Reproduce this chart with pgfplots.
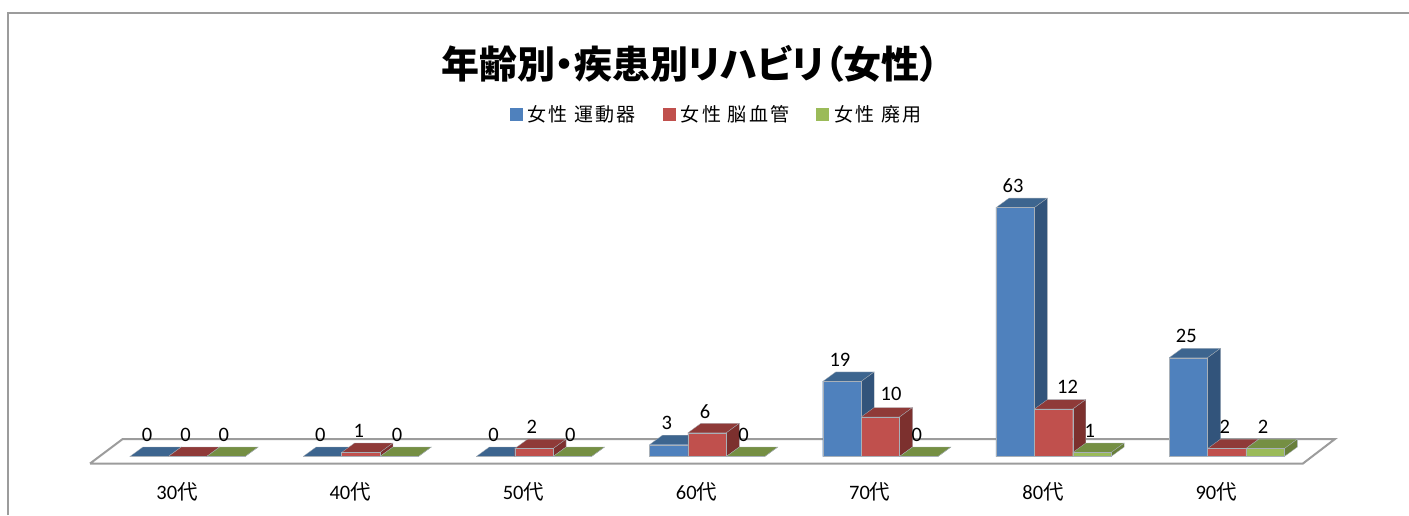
\documentclass[border=0pt]{standalone}
\usepackage{fontspec}
\setmainfont{Carlito}
\newfontfamily\cjk{Noto Sans CJK JP}
\newfontfamily\titlecjk[RawFeature=+palt]{Noto Sans CJK JP}
\newfontfamily\legcjk[LetterSpace=12]{Noto Sans CJK JP}
\usepackage{pgfplots}
\usepackage{pgfplotstable}
\pgfplotsset{compat=1.18}
\definecolor{bluefront}{HTML}{4F81BD}
\definecolor{bluetop}{HTML}{3D658F}
\definecolor{blueside}{HTML}{32547B}
\definecolor{redfront}{HTML}{C0504D}
\definecolor{redtop}{HTML}{8F3A38}
\definecolor{redside}{HTML}{7C302E}
\definecolor{greenfront}{HTML}{9BBB59}
\definecolor{greentop}{HTML}{758F43}
\definecolor{greenside}{HTML}{687F3A}
\definecolor{framegray}{HTML}{9C9C9C}
\definecolor{edgegray}{HTML}{A8B0B8}

\pgfplotstableread{
x motor brain disuse
0 0 0 0
1 0 1 0
2 0 2 0
3 3 6 0
4 19 10 0
5 63 12 1
6 25 2 2
}\agedata

% top and side faces of one bar: group, shift, value, top colour, side colour
\newcommand\depthfaces[5]{%
  \pgfmathsetmacro\xa{#1+(#2)-0.1109}%
  \pgfmathsetmacro\xb{#1+(#2)+0.1109}%
  \pgfmathsetmacro\xc{\xb+0.0751}%
  \pgfmathsetmacro\xd{\xa+0.0751}%
  \pgfmathsetmacro\yt{#3+2.405}%
  \edef\tmpfaces{%
    \noexpand\addplot[forget plot,fill=#4,draw=edgegray,line width=.3pt,mark=none]
      coordinates {(\xa,#3)(\xb,#3)(\xc,\yt)(\xd,\yt)(\xa,#3)};
    \noexpand\addplot[forget plot,fill=#5,draw=edgegray,line width=.3pt,mark=none]
      coordinates {(\xb,0)(\xc,2.405)(\xc,\yt)(\xb,#3)(\xb,0)};
  }%
  \tmpfaces
}

\begin{document}
\begin{tikzpicture}
\path[use as bounding box] (0pt,0pt) rectangle (1409pt,515pt);
\draw[framegray,line width=2pt] (8pt,0pt) -- (8pt,502.3pt) -- (1409pt,502.3pt);
\begin{axis}[
  at={(90pt,51.5pt)}, anchor=south west,
  scale only axis, width=1245pt, height=323pt,
  xmin=-0.563, xmax=6.625, ymin=-1.772, ymax=80,
  clip=false,
  axis line style={draw=none},
  tick style={draw=none},
  ytick=\empty,
  xtick={0,1,2,3,4,5,6},
  xticklabels={30{\cjk 代},40{\cjk 代},50{\cjk 代},60{\cjk 代},70{\cjk 代},80{\cjk 代},90{\cjk 代}},
  xticklabel style={anchor=center,xshift=-10.5pt,yshift=-28pt,font=\fontsize{20.5}{24}\selectfont},
  /pgf/number format/assume math mode=true,
  title={\titlecjk\bfseries 年齢別・疾患別リハビリ（女性）},
  title style={at={(axis description cs:0.4819,1.2197)},anchor=center,inner sep=0pt,font=\fontsize{38}{44}\selectfont},
  legend columns=3,
  legend style={at={(axis description cs:0.5032,1.082)},anchor=center,draw=none,fill=none,
    font=\fontsize{19}{22}\selectfont\legcjk,inner sep=0pt,
    /tikz/every even column/.style={column sep=25pt},
    /tikz/every odd column/.style={column sep=3pt}},
  legend image code/.code={\fill[#1,draw=none] (0pt,-6.5pt) rectangle (13pt,6.5pt);},
]
% floor
\addplot[forget plot,draw=framegray,line width=2pt,fill=white,mark=none]
  coordinates {(-0.563,-1.772)(6.44,-1.772)(6.625,4.43)(-0.374,4.43)(-0.563,-1.772)};

% blue series
\depthfaces{0}{-0.2217}{0}{bluetop}{blueside}
\depthfaces{1}{-0.2217}{0}{bluetop}{blueside}
\depthfaces{2}{-0.2217}{0}{bluetop}{blueside}
\depthfaces{3}{-0.2217}{3}{bluetop}{blueside}
\depthfaces{4}{-0.2217}{19}{bluetop}{blueside}
\depthfaces{5}{-0.2217}{63}{bluetop}{blueside}
\depthfaces{6}{-0.2217}{25}{bluetop}{blueside}
\addplot[ybar,bar width=38.4pt,bar shift=-38.4pt,fill=bluefront,draw=edgegray,line width=.3pt]
  table[x=x,y=motor]{\agedata};
\addlegendentry{女性 運動器}

% red series
\depthfaces{0}{0}{0}{redtop}{redside}
\depthfaces{1}{0}{1}{redtop}{redside}
\depthfaces{2}{0}{2}{redtop}{redside}
\depthfaces{3}{0}{6}{redtop}{redside}
\depthfaces{4}{0}{10}{redtop}{redside}
\depthfaces{5}{0}{12}{redtop}{redside}
\depthfaces{6}{0}{2}{redtop}{redside}
\addplot[ybar,bar width=38.4pt,bar shift=0pt,fill=redfront,draw=edgegray,line width=.3pt]
  table[x=x,y=brain]{\agedata};
\addlegendentry{女性 脳血管}

% green series
\depthfaces{0}{0.2217}{0}{greentop}{greenside}
\depthfaces{1}{0.2217}{0}{greentop}{greenside}
\depthfaces{2}{0.2217}{0}{greentop}{greenside}
\depthfaces{3}{0.2217}{0}{greentop}{greenside}
\depthfaces{4}{0.2217}{0}{greentop}{greenside}
\depthfaces{5}{0.2217}{1}{greentop}{greenside}
\depthfaces{6}{0.2217}{2}{greentop}{greenside}
\addplot[ybar,bar width=38.4pt,bar shift=38.4pt,fill=greenfront,draw=edgegray,line width=.3pt]
  table[x=x,y=disuse]{\agedata};
\addlegendentry{女性 廃用}

% data labels on top of everything
\pgfplotsset{lab/.style={forget plot,only marks,mark=none,draw=none,
  nodes near coords,
  nodes near coords style={anchor=center,inner sep=0pt,xshift=-2pt,yshift=21.5pt,text=black,
    font=\fontsize{20.5}{24}\selectfont}}}
\addplot[lab] table[x expr=\thisrow{x}-0.2217,y=motor]{\agedata};
\addplot[lab] coordinates {(0,0)(1,1)(2,2)(3,6)(6,2)};
\addplot[lab,nodes near coords style={xshift=12.7pt,yshift=1.5pt}] coordinates {(4,10)};
\addplot[lab,nodes near coords style={xshift=16pt,yshift=0.5pt}] coordinates {(5,12)};
\addplot[lab] table[x expr=\thisrow{x}+0.2217,y=disuse]{\agedata};
\end{axis}
\end{tikzpicture}
\end{document}
